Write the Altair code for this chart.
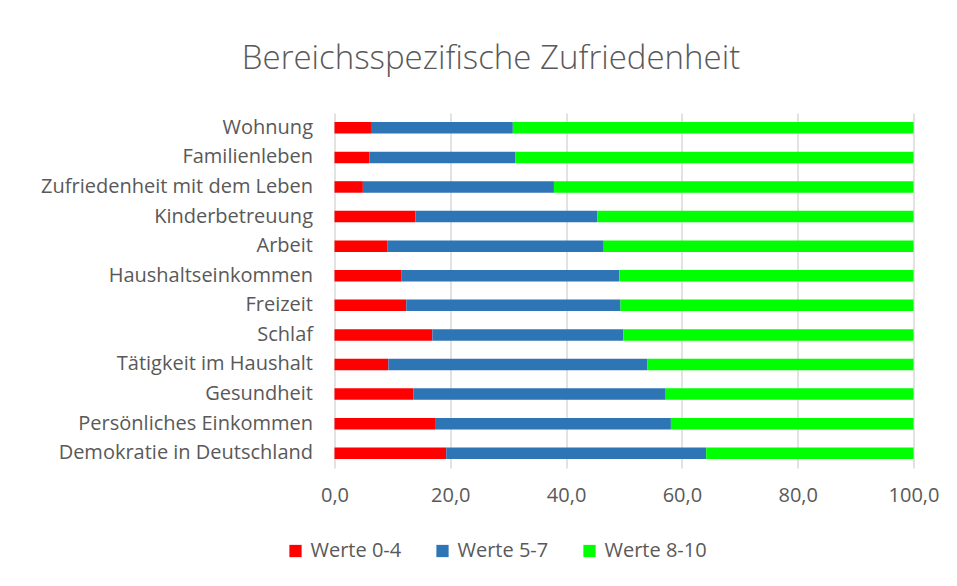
import altair as alt
import pandas as pd

categories = [
    "Wohnung",
    "Familienleben",
    "Zufriedenheit mit dem Leben",
    "Kinderbetreuung",
    "Arbeit",
    "Haushaltseinkommen",
    "Freizeit",
    "Schlaf",
    "Tätigkeit im Haushalt",
    "Gesundheit",
    "Persönliches Einkommen",
    "Demokratie in Deutschland",
]
werte_0_4 = [6.3, 6.0, 4.9, 14.0, 9.1, 11.6, 12.4, 16.9, 9.3, 13.6, 17.5, 19.3]
werte_5_7 = [24.5, 25.2, 33.0, 31.4, 37.4, 37.6, 37.0, 33.0, 44.7, 43.6, 40.6, 44.9]
werte_8_10 = [69.2, 68.8, 62.1, 54.6, 53.5, 50.8, 50.6, 50.1, 46.0, 42.8, 41.9, 35.8]
series = ["Werte 0-4", "Werte 5-7", "Werte 8-10"]
colors = ["#ff0000", "#2e75b6", "#00ff00"]
x_ticks = [0, 20, 40, 60, 80, 100]

rows = []
for i, cat in enumerate(categories):
    for k, (name, vals) in enumerate(zip(series, [werte_0_4, werte_5_7, werte_8_10])):
        rows.append({"Bereich": cat, "Serie": name, "Wert": vals[i], "ord": k})
df = pd.DataFrame(rows)

FONT = "Open Sans"
GREY = "#595959"
FS = 20

chart = (
    alt.Chart(df)
    .mark_bar(size=11.5)
    .encode(
        y=alt.Y(
            "Bereich:N",
            sort=categories,
            title=None,
            scale=alt.Scale(paddingInner=0.6, paddingOuter=0.3),
            axis=alt.Axis(
                labelFont=FONT,
                labelFontSize=FS,
                labelColor=GREY,
                labelPadding=22,
                ticks=False,
                domain=False,
                grid=False,
                labelLimit=400,
            ),
        ),
        x=alt.X(
            "Wert:Q",
            stack="zero",
            title=None,
            scale=alt.Scale(domain=[0, 100], nice=False),
            axis=alt.Axis(
                values=x_ticks,
                format=".1f",
                labelExpr="replace(datum.label, '.', ',')",
                labelFont=FONT,
                labelFontSize=FS,
                labelColor=GREY,
                labelPadding=17,
                labelFlush=False,
                ticks=False,
                domain=False,
                grid=True,
                gridColor="#d9d9d9",
                gridWidth=1.5,
            ),
        ),
        color=alt.Color(
            "Serie:N",
            scale=alt.Scale(domain=series, range=colors),
            legend=alt.Legend(
                title=None,
                orient="none",
                direction="horizontal",
                legendX=-49,
                legendY=428,
                symbolType="square",
                symbolSize=150,
                symbolStrokeWidth=0,
                labelFont=FONT,
                labelFontSize=FS,
                labelColor=GREY,
                columnPadding=31,
                labelOffset=5,
            ),
        ),
        order=alt.Order("ord:Q"),
    )
    .properties(
        width=579,
        height=355,
        title=alt.TitleParams(
            "Bereichsspezifische Zufriedenheit",
            font=FONT,
            fontSize=33,
            fontWeight=300,
            color=GREY,
            anchor="middle",
            dx=-133,
            offset=37,
        ),
        autosize=alt.AutoSizeParams(type="none"),
        padding={"left": 326.5, "top": 105, "right": 30, "bottom": 110},
    )
    .configure_view(stroke=None)
)

chart.save("out.html", embed_options={"renderer": "svg", "actions": False})
